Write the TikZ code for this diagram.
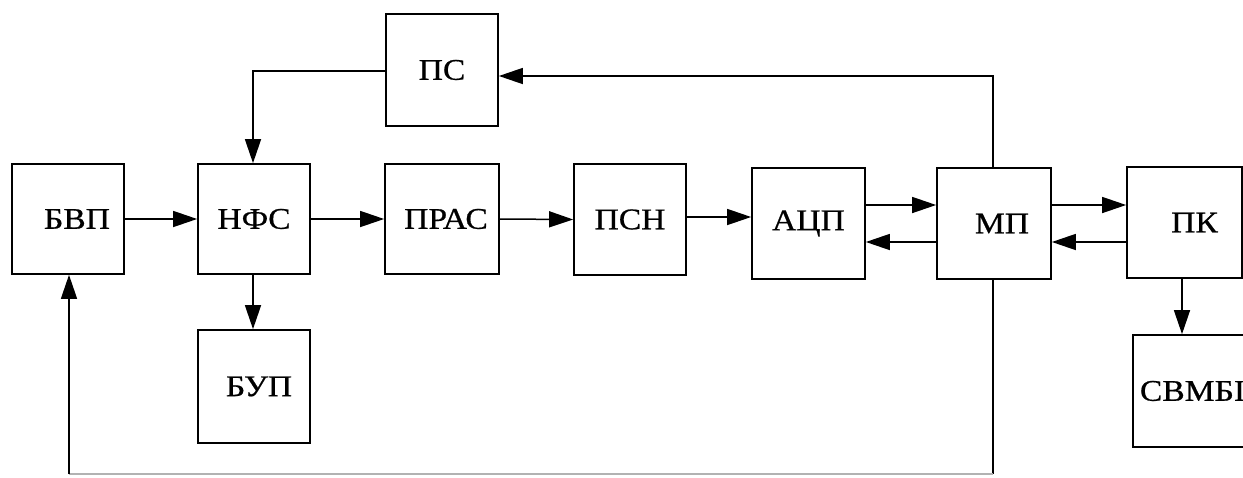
\documentclass[tikz,border=0pt]{standalone}
\usepackage{fontspec}
\setmainfont[FakeStretch=1.12,FakeBold=0.6]{Liberation Serif}
\usetikzlibrary{arrows.meta}
\begin{document}
\begin{tikzpicture}[x=1pt,y=-1pt,
  blk/.style={draw, line width=1.7pt, minimum width=112pt, minimum height=111pt, inner sep=0pt,
    font=\fontsize{30}{32}\selectfont},
  con/.style={line width=1.5pt},
  arr/.style={con, -{Triangle[length=24pt,width=16pt]}}]
\useasboundingbox (0,0) rectangle (1243,477);
\fill[white] (0,0) rectangle (1243,477);
\node[blk, minimum height=112pt] (ps) at (442,70) {ПС};
\node[blk, minimum height=110pt] (bvp) at (68,219) {\hspace*{18pt}БВП};
\node[blk, minimum height=110pt] (nfs) at (254,219) {НФС};
\node[blk, minimum width=114pt, minimum height=110pt] (pras) at (442,219) {\hspace*{8pt}ПРАС};
\node[blk] (psn) at (630,219.5) {ПСН};
\node[blk, minimum width=113pt] (acp) at (808.5,223.5) {АЦП};
\node[blk, minimum width=114pt] (mp) at (994,223.5) {\hspace*{16pt}МП};
\node[blk, minimum width=115pt] (pk) at (1184.5,222.5) {\hspace*{20pt}ПК};
\node[blk, minimum height=113pt] (bup) at (254,386.5) {\hspace*{10pt}БУП};
\node[blk, minimum width=117pt, minimum height=112pt] (svmb) at (1191.5,391) {\hspace*{2pt}СВМБI};
\coordinate (c1) at (253,71);
\coordinate (c2) at (993,76);
\coordinate (c3) at (993,474);
\coordinate (c4) at (69,474);
% main chain
\draw[arr] (bvp.east) -- (nfs.west);
\draw[arr] (nfs.east) -- (pras.west);
\draw[arr] (pras.east) -- (psn.west);
\draw[arr] (psn.east |- 0,217) -- (acp.west |- 0,217);
\draw[arr] (acp.east |- 0,205) -- (mp.west |- 0,205);
\draw[arr] (mp.west |- 0,242) -- (acp.east |- 0,242);
\draw[arr] (mp.east |- 0,205) -- (pk.west |- 0,205);
\draw[arr] (pk.west |- 0,242) -- (mp.east |- 0,242);
% feedback via ПС
\draw[arr] (ps.west |- c1) -- (c1) -- (c1 |- nfs.north);
\draw[arr] (c2 |- mp.north) -- (c2) -- (ps.east |- c2);
% bottom loop
\draw[con] (c3 |- mp.south) -- (c3);
\draw[con, black!30] (c3) -- (c4);
\draw[arr] (c4) -- (c4 |- bvp.south);
% downward
\draw[arr] (253,0 |- nfs.south) -- (253,0 |- bup.north);
\draw[arr] (1182,0 |- pk.south) -- (1182,0 |- svmb.north);
\end{tikzpicture}
\end{document}
